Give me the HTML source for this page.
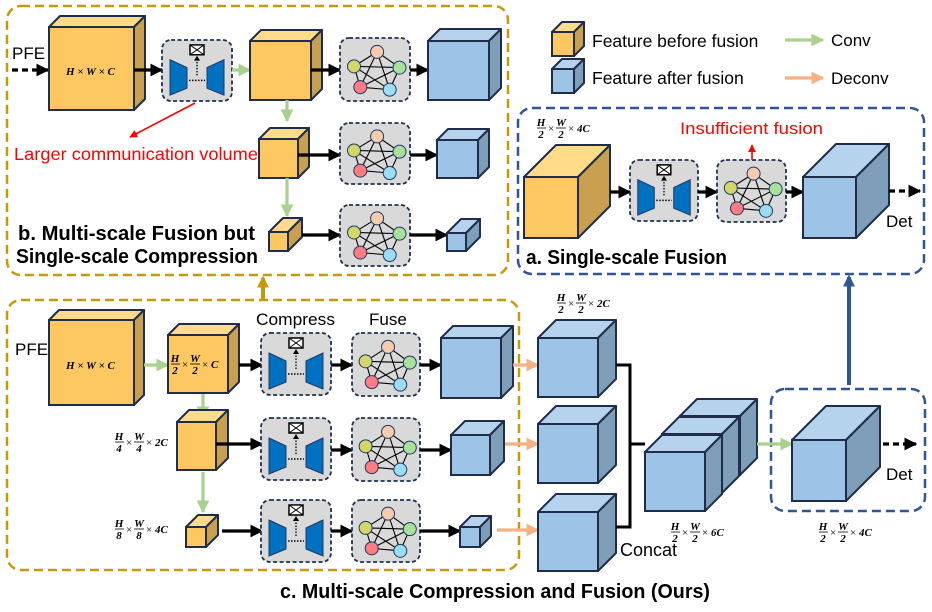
<!DOCTYPE html>
<html><head><meta charset="utf-8"><style>
html,body{margin:0;padding:0;background:#fff;width:932px;height:612px;overflow:hidden}
svg{display:block}
text{font-family:"Liberation Sans",sans-serif}
.f{font-family:"Liberation Serif",serif;font-style:italic;font-weight:bold;font-size:11px}
.fx{font-family:"Liberation Serif",serif;font-size:11px}
.t{font-weight:bold;font-size:20px}
</style></head><body>
<svg id="s" width="932" height="612" viewBox="0 0 932 612" xmlns="http://www.w3.org/2000/svg">
<defs>
<marker id="mk" viewBox="0 0 10 10" refX="9" refY="5" markerWidth="4" markerHeight="4" orient="auto"><path d="M0,0L10,5L0,10z" fill="#000"/></marker>
<marker id="mg" viewBox="0 0 10 10" refX="9" refY="5" markerWidth="4" markerHeight="4" orient="auto"><path d="M0,0L10,5L0,10z" fill="#A9D18E"/></marker>
<marker id="mo" viewBox="0 0 10 10" refX="9" refY="5" markerWidth="4" markerHeight="4" orient="auto"><path d="M0,0L10,5L0,10z" fill="#F4B183"/></marker>
<marker id="mr" viewBox="0 0 10 10" refX="9" refY="5" markerWidth="5" markerHeight="5" orient="auto"><path d="M0,0L10,5L0,10z" fill="#f00"/></marker>
<marker id="mgold" viewBox="0 0 10 10" refX="8" refY="5" markerWidth="3" markerHeight="3" orient="auto"><path d="M0,0L10,5L0,10z" fill="#C8980A"/></marker>
<marker id="mb" viewBox="0 0 10 10" refX="8" refY="5" markerWidth="3" markerHeight="3" orient="auto"><path d="M0,0L10,5L0,10z" fill="#2F5597"/></marker>
</defs>
<rect x="7" y="6" width="501" height="269" rx="14" fill="none" stroke="#C8980A" stroke-width="2.5" stroke-dasharray="9,5"/>
<rect x="7" y="300" width="512" height="270" rx="14" fill="none" stroke="#C8980A" stroke-width="2.5" stroke-dasharray="9,5"/>
<rect x="518" y="108" width="406" height="166" rx="14" fill="none" stroke="#2F5597" stroke-width="2.5" stroke-dasharray="9,5"/>
<rect x="771" y="389" width="154" height="122" rx="14" fill="none" stroke="#2F5597" stroke-width="2.5" stroke-dasharray="9,5"/>
<g id="shapes"></g>
<line x1="263" y1="299" x2="263" y2="278" stroke="#C8980A" stroke-width="4" marker-end="url(#mgold)"/>
<line x1="849" y1="385" x2="849" y2="277" stroke="#2F5597" stroke-width="4" marker-end="url(#mb)"/>
<text x="592" y="47" font-size="17.5">Feature before fusion</text>
<text x="592" y="84" font-size="17.5">Feature after fusion</text>
<text x="831" y="46" font-size="17">Conv</text>
<text x="831" y="84" font-size="17">Deconv</text>
<text x="12" y="59" font-size="17">PFE</text>
<text x="15" y="355" font-size="17">PFE</text>
<text x="14" y="160" font-size="17.5" fill="#f00" textLength="244" lengthAdjust="spacingAndGlyphs">Larger communication volume</text>
<text x="18" y="240" class="t" textLength="237" lengthAdjust="spacingAndGlyphs">b. Multi-scale Fusion but</text>
<text x="16" y="263" class="t" textLength="242" lengthAdjust="spacingAndGlyphs">Single-scale Compression</text>
<text x="680" y="134" font-size="17" fill="#f00" textLength="143" lengthAdjust="spacingAndGlyphs">Insufficient fusion</text>
<text x="526" y="264" class="t" textLength="201" lengthAdjust="spacingAndGlyphs">a. Single-scale Fusion</text>
<text x="886" y="227" font-size="17">Det</text>
<text x="886" y="480" font-size="17">Det</text>
<text x="256" y="325" font-size="17" textLength="79" lengthAdjust="spacingAndGlyphs">Compress</text>
<text x="369" y="325" font-size="17">Fuse</text>
<text x="620" y="556" font-size="18">Concat</text>
<text x="280" y="598" class="t" textLength="430" lengthAdjust="spacingAndGlyphs">c. Multi-scale Compression and Fusion (Ours)</text>
<text x="66" y="75" class="f" font-size="12">H × W × C</text>
<text x="66" y="369" class="f" font-size="12">H × W × C</text>
<g transform="translate(171,364)"><text x="4" y="-2" class="f" text-anchor="middle">H</text><line x1="0" x2="9" stroke="#000" stroke-width="0.8"/><text x="4" y="10" class="f" text-anchor="middle">2</text><text x="11" y="4" class="fx">×</text><text x="24" y="-2" class="f" text-anchor="middle">W</text><line x1="19" x2="29" stroke="#000" stroke-width="0.8"/><text x="24" y="10" class="f" text-anchor="middle">2</text><text x="31" y="4" class="fx">× <tspan class="f">C</tspan></text></g>
<g transform="translate(115,442)"><text x="4" y="-2" class="f" text-anchor="middle">H</text><line x1="0" x2="9" stroke="#000" stroke-width="0.8"/><text x="4" y="10" class="f" text-anchor="middle">4</text><text x="11" y="4" class="fx">×</text><text x="24" y="-2" class="f" text-anchor="middle">W</text><line x1="19" x2="29" stroke="#000" stroke-width="0.8"/><text x="24" y="10" class="f" text-anchor="middle">4</text><text x="31" y="4" class="fx">× <tspan class="f">2C</tspan></text></g>
<g transform="translate(115,529)"><text x="4" y="-2" class="f" text-anchor="middle">H</text><line x1="0" x2="9" stroke="#000" stroke-width="0.8"/><text x="4" y="10" class="f" text-anchor="middle">8</text><text x="11" y="4" class="fx">×</text><text x="24" y="-2" class="f" text-anchor="middle">W</text><line x1="19" x2="29" stroke="#000" stroke-width="0.8"/><text x="24" y="10" class="f" text-anchor="middle">8</text><text x="31" y="4" class="fx">× <tspan class="f">4C</tspan></text></g>
<g transform="translate(557,303)"><text x="4" y="-2" class="f" text-anchor="middle">H</text><line x1="0" x2="9" stroke="#000" stroke-width="0.8"/><text x="4" y="10" class="f" text-anchor="middle">2</text><text x="11" y="4" class="fx">×</text><text x="24" y="-2" class="f" text-anchor="middle">W</text><line x1="19" x2="29" stroke="#000" stroke-width="0.8"/><text x="24" y="10" class="f" text-anchor="middle">2</text><text x="31" y="4" class="fx">× <tspan class="f">2C</tspan></text></g>
<g transform="translate(671,532)"><text x="4" y="-2" class="f" text-anchor="middle">H</text><line x1="0" x2="9" stroke="#000" stroke-width="0.8"/><text x="4" y="10" class="f" text-anchor="middle">2</text><text x="11" y="4" class="fx">×</text><text x="24" y="-2" class="f" text-anchor="middle">W</text><line x1="19" x2="29" stroke="#000" stroke-width="0.8"/><text x="24" y="10" class="f" text-anchor="middle">2</text><text x="31" y="4" class="fx">× <tspan class="f">6C</tspan></text></g>
<g transform="translate(819,532)"><text x="4" y="-2" class="f" text-anchor="middle">H</text><line x1="0" x2="9" stroke="#000" stroke-width="0.8"/><text x="4" y="10" class="f" text-anchor="middle">2</text><text x="11" y="4" class="fx">×</text><text x="24" y="-2" class="f" text-anchor="middle">W</text><line x1="19" x2="29" stroke="#000" stroke-width="0.8"/><text x="24" y="10" class="f" text-anchor="middle">2</text><text x="31" y="4" class="fx">× <tspan class="f">4C</tspan></text></g>
<g transform="translate(537,128)"><text x="4" y="-2" class="f" text-anchor="middle">H</text><line x1="0" x2="9" stroke="#000" stroke-width="0.8"/><text x="4" y="10" class="f" text-anchor="middle">2</text><text x="11" y="4" class="fx">×</text><text x="24" y="-2" class="f" text-anchor="middle">W</text><line x1="19" x2="29" stroke="#000" stroke-width="0.8"/><text x="24" y="10" class="f" text-anchor="middle">2</text><text x="31" y="4" class="fx">× <tspan class="f">4C</tspan></text></g>
</svg>
<script>
var g=document.getElementById('shapes'),h='';
var Y=['#FDC862','#FFDB8A','#C9A04F'],B=['#9DC3E6','#B6D3EE','#7F9EBA'],S='#1F2D4A';
function cube(x,y,w,hh,d,c){
 h+='<path d="M'+x+','+y+' l'+d+','+(-d)+' h'+w+' l'+(-d)+','+d+'z" fill="'+c[1]+'" stroke="'+S+'" stroke-width="2" stroke-linejoin="round"/>';
 h+='<path d="M'+(x+w)+','+y+' l'+d+','+(-d)+' v'+hh+' l'+(-d)+','+d+'z" fill="'+c[2]+'" stroke="'+S+'" stroke-width="2" stroke-linejoin="round"/>';
 h+='<rect x="'+x+'" y="'+y+'" width="'+w+'" height="'+hh+'" fill="'+c[0]+'" stroke="'+S+'" stroke-width="2"/>';
}
function box(x,y,w,hh){h+='<rect x="'+x+'" y="'+y+'" width="'+w+'" height="'+hh+'" rx="9" fill="#D9D9D9" stroke="#1F3050" stroke-width="1.8" stroke-dasharray="4,2.5"/>';}
function comp(x,y,w,hh){box(x,y,w,hh);var sx=w/70,sy=hh/62;
 function P(a,b){return (x+a*sx)+','+(y+b*sy);}
 h+='<polygon points="'+P(8,20)+' '+P(25,28)+' '+P(25,49)+' '+P(8,56)+'" fill="#0070C0" stroke="#1F3864" stroke-width="1"/>';
 h+='<polygon points="'+P(62,20)+' '+P(45,28)+' '+P(45,49)+' '+P(62,56)+'" fill="#0070C0" stroke="#1F3864" stroke-width="1"/>';
 h+='<rect x="'+(x+28*sx)+'" y="'+(y+5*sy)+'" width="'+(14*sx)+'" height="'+(10*sy)+'" fill="#fff" stroke="#000" stroke-width="1.5"/>';
 h+='<path d="M'+P(28,5)+' L'+P(42,15)+' M'+P(42,5)+' L'+P(28,15)+'" stroke="#000" stroke-width="1"/>';
 h+='<path d="M'+P(35,36)+' L'+P(35,20)+'" stroke="#000" stroke-width="1.3" stroke-dasharray="1.5,1.5"/>';
 h+='<path d="M'+P(32,21)+' L'+P(35,16)+' L'+P(38,21)+'z" fill="#000"/>';
 h+='<path d="M'+P(27,41)+' L'+P(43,41)+'" stroke="#000" stroke-width="1.5" stroke-dasharray="1.5,1.5"/>';
}
function fuse(x,y,w,hh){box(x,y,w,hh);
 var n=[[.53,.22,'#F8CBAD'],[.2,.45,'#D4D66A'],[.85,.47,'#A9E19A'],[.29,.78,'#FF7C80'],[.71,.82,'#9DDCF5']];
 var p=n.map(function(a){return [x+a[0]*w,y+a[1]*hh,a[2]]});
 for(var i=0;i<5;i++)for(var j=i+1;j<5;j++)h+='<line x1="'+p[i][0]+'" y1="'+p[i][1]+'" x2="'+p[j][0]+'" y2="'+p[j][1]+'" stroke="#000" stroke-width="1.1"/>';
 p.forEach(function(a){h+='<circle cx="'+a[0]+'" cy="'+a[1]+'" r="6.5" fill="'+a[2]+'" stroke="#1F3864" stroke-width="1"/>';});
}
function ar(x1,y1,x2,y2,t,dash){var m=t=='g'?'mg':t=='o'?'mo':t=='r'?'mr':'mk',c=t=='g'?'#A9D18E':t=='o'?'#F4B183':t=='r'?'#f00':'#000';
 var sw=t=='r'?1.6:3.2;
 h+='<line x1="'+x1+'" y1="'+y1+'" x2="'+x2+'" y2="'+y2+'" stroke="'+c+'" stroke-width="'+sw+'"'+(dash?' stroke-dasharray="6,4"':'')+' marker-end="url(#'+m+')"/>';}
cube(552,32,22,24,10,Y);cube(552,69,22,24,10,B);
ar(785,40,823,40,'g');ar(785,78,823,78,'o');
ar(12,70,48,70,'k',1);
cube(49,27,85,83,11,Y);ar(134,70,162,70);comp(162,40,70,61);ar(232,70,250,70,'g');
cube(250,41,61,59,11,Y);ar(311,70,340,70);fuse(340,38,70,63);ar(410,70,428,70);cube(428,41,61,59,12,B);
ar(287,100,287,121,'g');cube(259,139,39,39,11,Y);ar(298,155,340,155);fuse(340,123,70,61);ar(410,155,437,155);cube(437,140,41,38,11,B);
ar(287,178,287,216,'g');cube(269,232,19,19,14,Y);ar(302,235,340,235);fuse(340,205,70,61);ar(410,235,447,235);cube(447,233,19,18,14,B);
ar(195,103,130,137,'r');
cube(524,177,54,61,32,Y);ar(610,192,630,192);comp(630,160,68,61);ar(698,192,717,192);fuse(717,160,69,62);ar(786,192,803,192);
cube(803,177,53,61,33,B);ar(889,191,920,191,'k',1);ar(752,160,752,145,'r');
cube(49,320,85,85,10,Y);ar(144,365,168,365,'g');cube(168,335,60,58,11,Y);ar(239,365,262,365);
comp(261,333,70,62);ar(331,365,352,365);fuse(352,333,68,63);ar(420,365,441,365);cube(441,338,60,60,12,B);
ar(203,394,203,418,'g');cube(177,422,39,48,12,Y);ar(216,444,262,444);comp(261,418,70,62);ar(331,450,352,450);fuse(352,418,68,63);ar(420,450,451,450);cube(451,435,39,40,14,B);
ar(203,472,203,512,'g');cube(186,527,20,20,12,Y);ar(222,531,262,531);comp(261,500,70,62);ar(331,531,352,531);fuse(352,500,68,62);ar(420,531,460,531);cube(460,527,20,20,11,B);
ar(513,365,538,365,'o');ar(505,444,538,444,'o');ar(497,530,538,530,'o');
cube(538,338,60,59,18,B);cube(538,424,60,59,18,B);cube(538,512,60,59,18,B);
h+='<path d="M616,365 H630 V527 H616 M630,444 H645" fill="none" stroke="#000" stroke-width="3"/>';
cube(680,416,60,59,17,B);cube(662,434,60,59,17,B);cube(645,452,60,59,17,B);
ar(757,444,792,444,'g');cube(792,440,54,61,34,B);ar(883,444,916,444,'k',1);
g.innerHTML=h;
</script>
</body></html>
